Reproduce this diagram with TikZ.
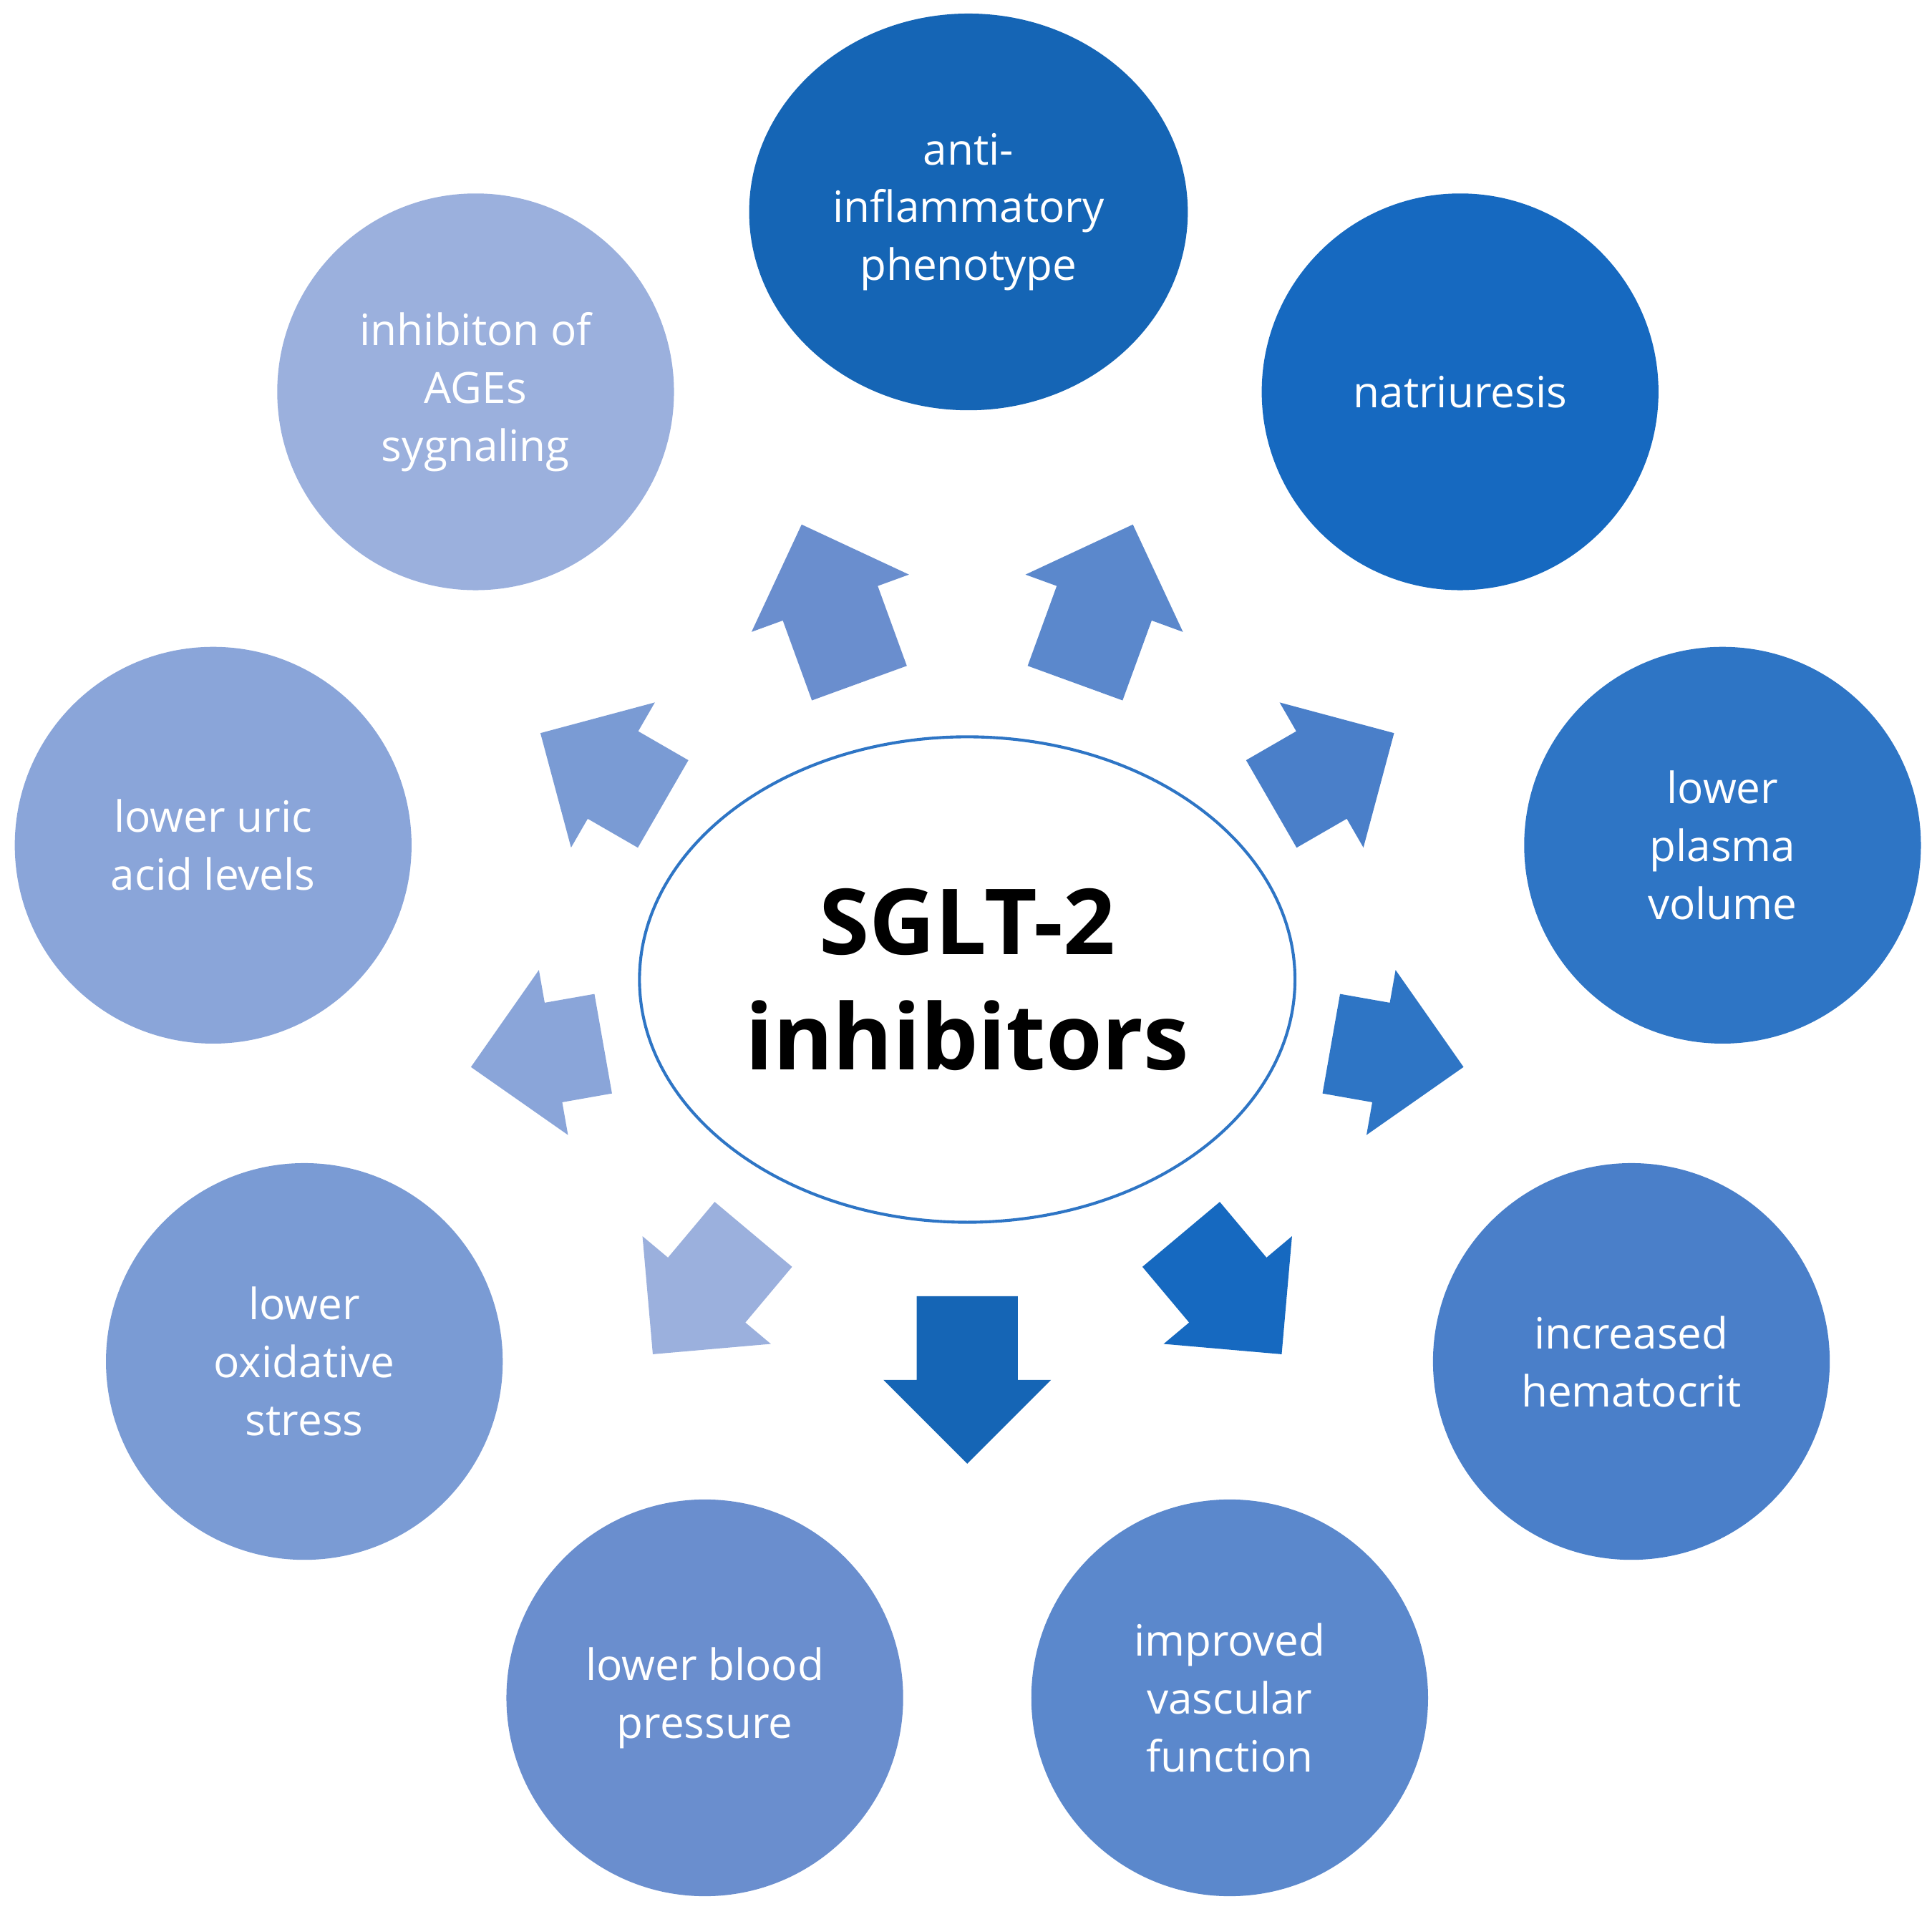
\documentclass[tikz,border=0pt]{standalone}
\usepackage{fontspec}
\setmainfont{Open Sans}
\usetikzlibrary{shapes.geometric}
\begin{document}
\begin{tikzpicture}[x=0.5pt,y=-0.5pt,
  bub/.style={circle,minimum size=161pt,inner sep=0pt,text=white,align=center,
    font=\fontsize{17.5}{23.5}\selectfont}]
\useasboundingbox (0,0) rectangle (1568,1549);
\definecolor{c1}{HTML}{1565B5}
\definecolor{c2}{HTML}{1669C0}
\definecolor{c3}{HTML}{2E75C5}
\definecolor{c4}{HTML}{4A7FC9}
\definecolor{c5}{HTML}{5B88CC}
\definecolor{c6}{HTML}{6A8ECE}
\definecolor{c7}{HTML}{7A9BD4}
\definecolor{c8}{HTML}{8AA5D9}
\definecolor{c9}{HTML}{9BB0DD}
\node[ellipse,draw=c3,line width=1.2pt,minimum width=266pt,minimum height=197pt,
  align=center,font=\bfseries\fontsize{37}{47}\selectfont] (cen) at (785,795) {SGLT-2\\inhibitors};
\node[bub,fill=c1,ellipse,minimum width=178pt,minimum height=161pt] (b1) at (786,172) {anti-\\inflammatory\\phenotype};
\node[bub,fill=c2] (b2) at (1185,318) {natriuresis};
\node[bub,fill=c3] (b3) at (1398,686) {lower\\plasma\\volume};
\node[bub,fill=c4] (b4) at (1324,1105) {increased\\hematocrit};
\node[bub,fill=c5] (b5) at (998,1378) {improved\\vascular\\function};
\node[bub,fill=c6] (b6) at (572,1378) {lower blood\\pressure};
\node[bub,fill=c7] (b7) at (247,1105) {lower\\oxidative\\stress};
\node[bub,fill=c8] (b8) at (173,686) {lower uric\\acid levels};
\node[bub,fill=c9] (b9) at (386,318) {inhibiton of\\AGEs\\sygnaling};
\foreach \a/\ra/\rb/\c in {90/257/393/c1,50/270/397/c2,10/300/409/c3,-30/285/400/c4,
  -70/256/393/c5,-110/256/393/c6,-150/285/400/c7,170/300/409/c8,130/270/397/c9}{
  \begin{scope}[shift={(cen.center)},yscale=-1,rotate=\a]
  \fill[\c] (\ra,-41) -- ({\rb-68},-41) -- ({\rb-68},-68) -- (\rb,0) -- ({\rb-68},68)
    -- ({\rb-68},41) -- (\ra,41) -- cycle;
  \end{scope}}
\end{tikzpicture}
\end{document}
